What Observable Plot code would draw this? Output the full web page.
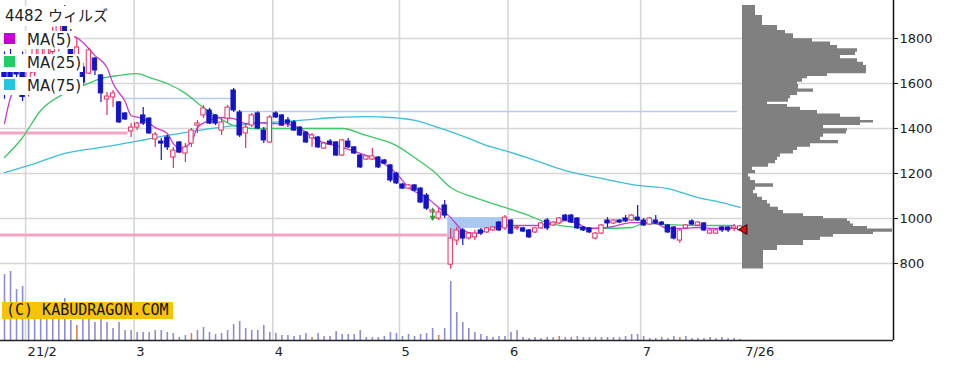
<!DOCTYPE html>
<html><head><meta charset="utf-8">
<script src="https://cdn.jsdelivr.net/npm/d3@7"></script>
<script src="https://cdn.jsdelivr.net/npm/@observablehq/plot@0.6"></script>
<style>
body{margin:0;background:#fff;}
#wrap{position:relative;width:955px;height:376px;overflow:hidden;font-family:"DejaVu Sans","Noto Sans CJK JP",sans-serif;}
#wrap svg{position:absolute;left:0;top:0;}
.row{position:absolute;left:0;background:#fff;height:18px;line-height:18px;font-size:15px;color:#222;white-space:nowrap;padding-right:1px;}
.sw{position:absolute;left:4px;top:2px;width:11px;height:11px;}
.row .t{position:absolute;left:27px;top:0;}
#title{position:absolute;left:0;top:6px;height:20px;line-height:20px;font-size:15px;color:#222;background:#fff;padding-left:5px;padding-right:2px;white-space:nowrap;}
#copy{position:absolute;left:2px;top:302px;width:171px;height:17px;background:#f6c400;font-family:"DejaVu Sans Mono",monospace;font-size:15px;line-height:17px;color:#111;padding-left:4px;box-sizing:border-box;white-space:nowrap;}
</style></head><body>
<div id="wrap"></div>
<script>
// ---- candle data (trading-day index 0 = 2021-01-26) ----
const open = [1700,1720,1700,1720,1560,1650,1700,1720,1740,1760,1900,1820,1700,
1671,1644,1711,1636,1529,1538,1516,1467,1387,1404,1458,1444,1351,1342,1360,1271,1338,1289,1333,1413,1458,1480,1458,1391,1444,1569,1471,1378,1413,1467,1391,1338,1467,1458,1436,1427,1404,1382,1356,1360,1311,1342,1338,1280,1342,1316,1280,1262,1262,1271,1258,1236,1200,1151,1133,1147,1133,1102,1027,1000,1058,795,902,947,911,916,947,938,947,982,956,991,956,956,947,938,956,991,969,978,1013,1013,1000,960,956,911,933,991,978,991,1000,991,1004,991,973,991,982,969,960,902,956,987,969,978,933,933,960,960,956,947];
const high = [1740,1760,1720,1740,1720,1790,1800,1810,1850,1880,1947,1840,1800,
1690,1756,1716,1640,1560,1569,1520,1470,1422,1427,1493,1449,1382,1356,1370,1316,1342,1333,1400,1436,1502,1490,1462,1444,1502,1578,1480,1422,1467,1475,1404,1458,1475,1462,1449,1436,1409,1387,1378,1365,1338,1351,1342,1351,1356,1320,1284,1280,1311,1276,1262,1240,1205,1156,1151,1151,1138,1111,1040,1044,1080,956,960,956,938,947,956,960,965,987,1013,995,969,960,951,960,982,1000,987,1004,1018,1018,1004,965,960,938,973,1004,995,995,1013,1018,1058,1000,1004,1013,987,973,965,951,973,995,987,982,951,951,965,965,973,969];
const low = [1530,1580,1600,1520,1540,1630,1680,1700,1720,1740,1760,1690,1680,
1590,1640,1636,1516,1458,1493,1422,1436,1360,1391,1413,1375,1316,1258,1302,1222,1289,1249,1316,1378,1444,1418,1413,1369,1427,1471,1360,1311,1404,1395,1333,1333,1444,1409,1404,1387,1365,1333,1316,1311,1307,1324,1276,1276,1311,1285,1222,1258,1258,1222,1240,1160,1151,1129,1129,1120,1067,1036,1022,991,1000,775,880,880,905,902,924,933,942,942,947,929,947,938,911,933,951,947,965,973,987,978,951,942,933,905,929,960,973,978,982,987,987,965,969,973,969,933,905,889,951,969,965,942,929,929,938,938,942,942];
const close = [1560,1620,1640,1540,1700,1760,1780,1790,1820,1860,1780,1720,1760,
1604,1747,1658,1556,1542,1556,1427,1440,1404,1422,1422,1378,1373,1333,1316,1302,1293,1316,1391,1422,1489,1422,1422,1427,1493,1480,1369,1404,1458,1400,1347,1449,1449,1413,1422,1391,1369,1338,1369,1316,1333,1329,1280,1347,1316,1289,1227,1276,1276,1227,1244,1169,1156,1133,1147,1124,1071,1044,1036,1027,1013,911,947,911,933,933,933,956,960,947,1004,933,960,942,916,956,978,956,982,1000,991,982,956,947,938,933,969,978,991,982,987,1013,991,969,1000,978,973,938,911,947,969,973,982,947,947,947,947,947,965,965];
// volume (thousand shares)
const volume = [660,690,510,540,350,330,300,320,330,300,420,200,150,220,220,180,220,180,120,180,100,100,80,80,80,100,100,80,70,30,50,70,100,130,80,60,70,100,160,190,120,100,100,150,80,70,50,50,40,50,70,30,70,40,40,90,60,60,60,100,30,30,30,40,80,70,40,60,40,60,70,120,50,120,590,280,180,120,80,60,40,30,40,40,80,100,30,20,30,20,30,30,40,30,30,40,30,30,30,30,30,30,30,40,60,60,40,20,20,30,20,40,30,40,20,20,20,30,20,30,20,20,10];
const orangeDays = [12,31,51,72,92,112];

// moving averages (index, value)
const ma5Idx = [0,1,2,3,4,5,6,7,8,9,10,11,12,13,15,17,18,20,21,23,25,27,28,29,31,32,34,36,38,40,42,44,46,49,52,56,59,62,65,67,70,72,74,76,78,80,83,88,91,93,95,97,100,104,106,108,110,113,115,117,120,122];
const ma5Val = [1422,1538,1590,1620,1640,1660,1690,1720,1750,1780,1800,1810,1804,1782,1724,1671,1600,1520,1458,1444,1404,1378,1333,1311,1340,1404,1436,1449,1444,1422,1427,1422,1422,1400,1347,1316,1289,1258,1200,1138,1093,1049,1004,947,933,947,969,969,978,991,978,956,960,982,982,978,956,956,960,956,956,956];
const ma25Idx = [0,3,6,10,13,16,19,22,24,27,30,33,35,38,41,45,49,56,60,65,68,71,74,78,83,87,89,92,95,99,104,106,110,115,121];
const ma25Val = [1271,1360,1480,1556,1591,1622,1636,1644,1627,1600,1556,1493,1458,1413,1400,1400,1400,1400,1369,1324,1271,1213,1138,1093,1049,1013,991,969,960,956,960,978,973,969,969];
const ma75Idx = [0,5,10,16,21,27,32,38,44,49,55,60,64,68,72,77,80,83,88,93,99,105,110,115,119,122];
const ma75Val = [1204,1244,1289,1316,1338,1369,1391,1413,1427,1436,1449,1453,1449,1436,1404,1356,1324,1302,1258,1213,1178,1147,1133,1093,1071,1049];

// price-by-volume profile (bin edges high->low, volume per bin)
const profEdges = [1947,1902,1858,1836,1821,1799,1784,1769,1754,1739,1724,1710,1695,1680,1643,1631,1621,1606,1596,1576,1561,1547,1532,1517,1507,1495,1480,1465,1450,1436,1424,1413,1399,1388,1376,1361,1347,1332,1317,1302,1287,1272,1258,1243,1228,1213,1199,1184,1169,1154,1139,1124,1110,1095,1080,1065,1050,1036,1021,1009,999,988,976,964,953,939,929,917,902,880,858,776];
const profVol = [13,20,35,43,51,70,88,95,115,113,98,115,121,124,85,65,60,55,56,71,55,48,46,25,45,58,75,98,118,131,118,81,105,104,81,78,96,68,55,51,38,35,33,26,10,13,6,8,13,31,13,11,15,20,25,28,36,41,61,81,105,108,111,125,150,131,91,78,61,35,21];

// reference levels / annotations
const levelPrice = [1380, 927];   // pink support/resistance
const levelEnd = [20.5, 73.5];
const boxPrice = [1533, 1476];    // light-blue lines
const boxStart = [19.7, 38.6];
const boxEnd = [37.8, 121.6];
const gapX1 = [73.5, 73.5], gapX2 = [83.1, 75.5], gapY1 = [956, 911], gapY2 = [1004, 956];
const signalIdx = [71], signalFrom = [1046], signalTo = [995];
const lastIdx = [122], lastPrice = [951];

// axes
const priceTicks = [800,1000,1200,1400,1600,1800];
const monthIdx = [3.5,21.5,44.5,65.5,83.5,105.5];
const tickIdx = [3.5,21.5,44.5,65.5,83.5,105.5,122.5];
const tickLabels = ["21/2","3","4","5","6","7","7/26"];

// ---- build ----
const RED = "#e62e63", BLUE = "#1414c4";
const candles = open.map((o, i) => ({i, o, h: high[i], l: low[i], c: close[i]}));
const vols = volume.map((v, i) => ({i, v, orange: orangeDays.includes(i)}));
const ma5 = ma5Idx.map((i, k) => ({i, v: ma5Val[k]}));
const ma25 = ma25Idx.map((i, k) => ({i, v: ma25Val[k]}));
const ma75 = ma75Idx.map((i, k) => ({i, v: ma75Val[k]}));
// step outline of the profile: each bin contributes its top and bottom edge
const profPts = profVol.flatMap((v, k) => [{p: profEdges[k], v}, {p: profEdges[k + 1], v}]);
const labelMap = new Map(tickIdx.map((d, k) => [d, tickLabels[k]]));
const X0 = -4 / 6.03, X1 = 889 / 6.03;
const YDOM = [457.8, 1968.9];
const levels = levelPrice.map((p, k) => ({p, a: X0, b: levelEnd[k]}));
const boxes = boxPrice.map((p, k) => ({p, a: boxStart[k], b: boxEnd[k]}));
const gaps = gapX1.map((x, k) => ({x1: x, x2: gapX2[k], y1: gapY1[k], y2: gapY2[k]}));
const signals = signalIdx.map((i, k) => ({i, a: signalFrom[k], b: signalTo[k]}));
const last = lastIdx.map((i, k) => ({i, p: lastPrice[k]}));

const base = {width: 955, height: 376, marginLeft: 0, marginRight: 62, marginTop: 0, marginBottom: 36,
  style: "background:transparent;position:absolute;left:0;top:0;overflow:visible;font-family:'DejaVu Sans',sans-serif;font-size:13px;"};

const svgProfile = Plot.plot({...base,
  x: {domain: [0, 151], range: [742, 893], axis: null},
  y: {domain: YDOM, axis: null},
  marks: [
    Plot.ruleY(priceTicks, {stroke: "#d6d6d6", strokeWidth: 1.6}),
    Plot.areaX(profPts, {y: "p", x1: () => 0, x2: "v", fill: "#808080", curve: "linear"}),
    Plot.ruleX([151], {stroke: "#111", strokeWidth: 1.5}),
    Plot.axisY(priceTicks, {anchor: "right", label: null, tickSize: 4, tickPadding: 2, tickFormat: d => String(d), fontSize: 13, color: "#222", stroke: "#111"})
  ]
});

const svgVol = Plot.plot({...base,
  x: {domain: [X0, X1], axis: null},
  y: {domain: [0, 3400], axis: null},
  marks: [
    Plot.ruleX(monthIdx, {stroke: "#d6d6d6", strokeWidth: 1.6}),
    Plot.ruleX(vols, {x: "i", y1: () => 0, y2: "v", stroke: d => d.orange ? "#d0805c" : "#8c8cd2", strokeWidth: 1.6}),
    Plot.ruleY([0], {stroke: "#222", strokeWidth: 1.5}),
    Plot.axisX(tickIdx, {label: null, tickSize: 0, tickPadding: 6, textAnchor: "start", dx: 2, tickFormat: d => labelMap.get(d), fontSize: 13, color: "#222"})
  ]
});

const svgPrice = Plot.plot({...base,
  x: {domain: [X0, X1], axis: null},
  y: {domain: YDOM, axis: null},
  marks: [
    Plot.rect(gaps, {x1: "x1", x2: "x2", y1: "y1", y2: "y2", fill: "#a9c8f2"}),
    Plot.ruleY(levels, {y: "p", x1: "a", x2: "b", stroke: "#f2a6c4", strokeWidth: 3}),
    Plot.ruleY(boxes, {y: "p", x1: "a", x2: "b", stroke: "#b4cdee", strokeWidth: 1.5}),
    Plot.line(ma75, {x: "i", y: "v", stroke: "#3cbedc", strokeWidth: 1.3, curve: "monotone-x"}),
    Plot.line(ma25, {x: "i", y: "v", stroke: "#3cc864", strokeWidth: 1.3, curve: "monotone-x"}),
    Plot.line(ma5, {x: "i", y: "v", stroke: "#c83cd2", strokeWidth: 1.3, curve: "monotone-x"}),
    Plot.ruleX(candles, {x: "i", y1: "l", y2: "h", stroke: d => d.c >= d.o ? RED : BLUE, strokeWidth: 1.2}),
    Plot.rect(candles, {x1: d => d.i - 0.36, x2: d => d.i + 0.36, y1: "o", y2: "c",
      fill: d => d.c >= d.o ? "#ffffff" : BLUE, stroke: d => d.c >= d.o ? RED : BLUE, strokeWidth: 1}),
    Plot.arrow(signals, {x1: "i", x2: "i", y1: "a", y2: "b", stroke: "#1f9a2c", strokeWidth: 1.5, headLength: 5}),
    Plot.dot(last, {x: "i", y: "p", symbol: "triangle", r: 3.6, rotate: -90, dx: 4, fill: "#e01010", stroke: "#3a0000", strokeWidth: 1})
  ]
});

const wrap = document.getElementById("wrap");
wrap.appendChild(svgProfile);
wrap.appendChild(svgVol);
wrap.appendChild(svgPrice);

// legend / title / credit
const legend = [["MA(5)", "#c800d8", 31], ["MA(25)", "#22cc66", 54], ["MA(75)", "#22c8e0", 77]];
const t = document.createElement("div");
t.id = "title"; t.textContent = "4482 ウィルズ";
wrap.appendChild(t);
for (const [name, col, top] of legend) {
  const r = document.createElement("div");
  r.className = "row"; r.style.top = top + "px";
  r.style.width = (27 + name.length * 9.2) + "px";
  r.innerHTML = `<span class="sw" style="background:${col}"></span><span class="t">${name}</span>`;
  wrap.appendChild(r);
}
const cp = document.createElement("div");
cp.id = "copy"; cp.textContent = "(C) KABUDRAGON.COM";
wrap.appendChild(cp);
</script>
</body></html>
